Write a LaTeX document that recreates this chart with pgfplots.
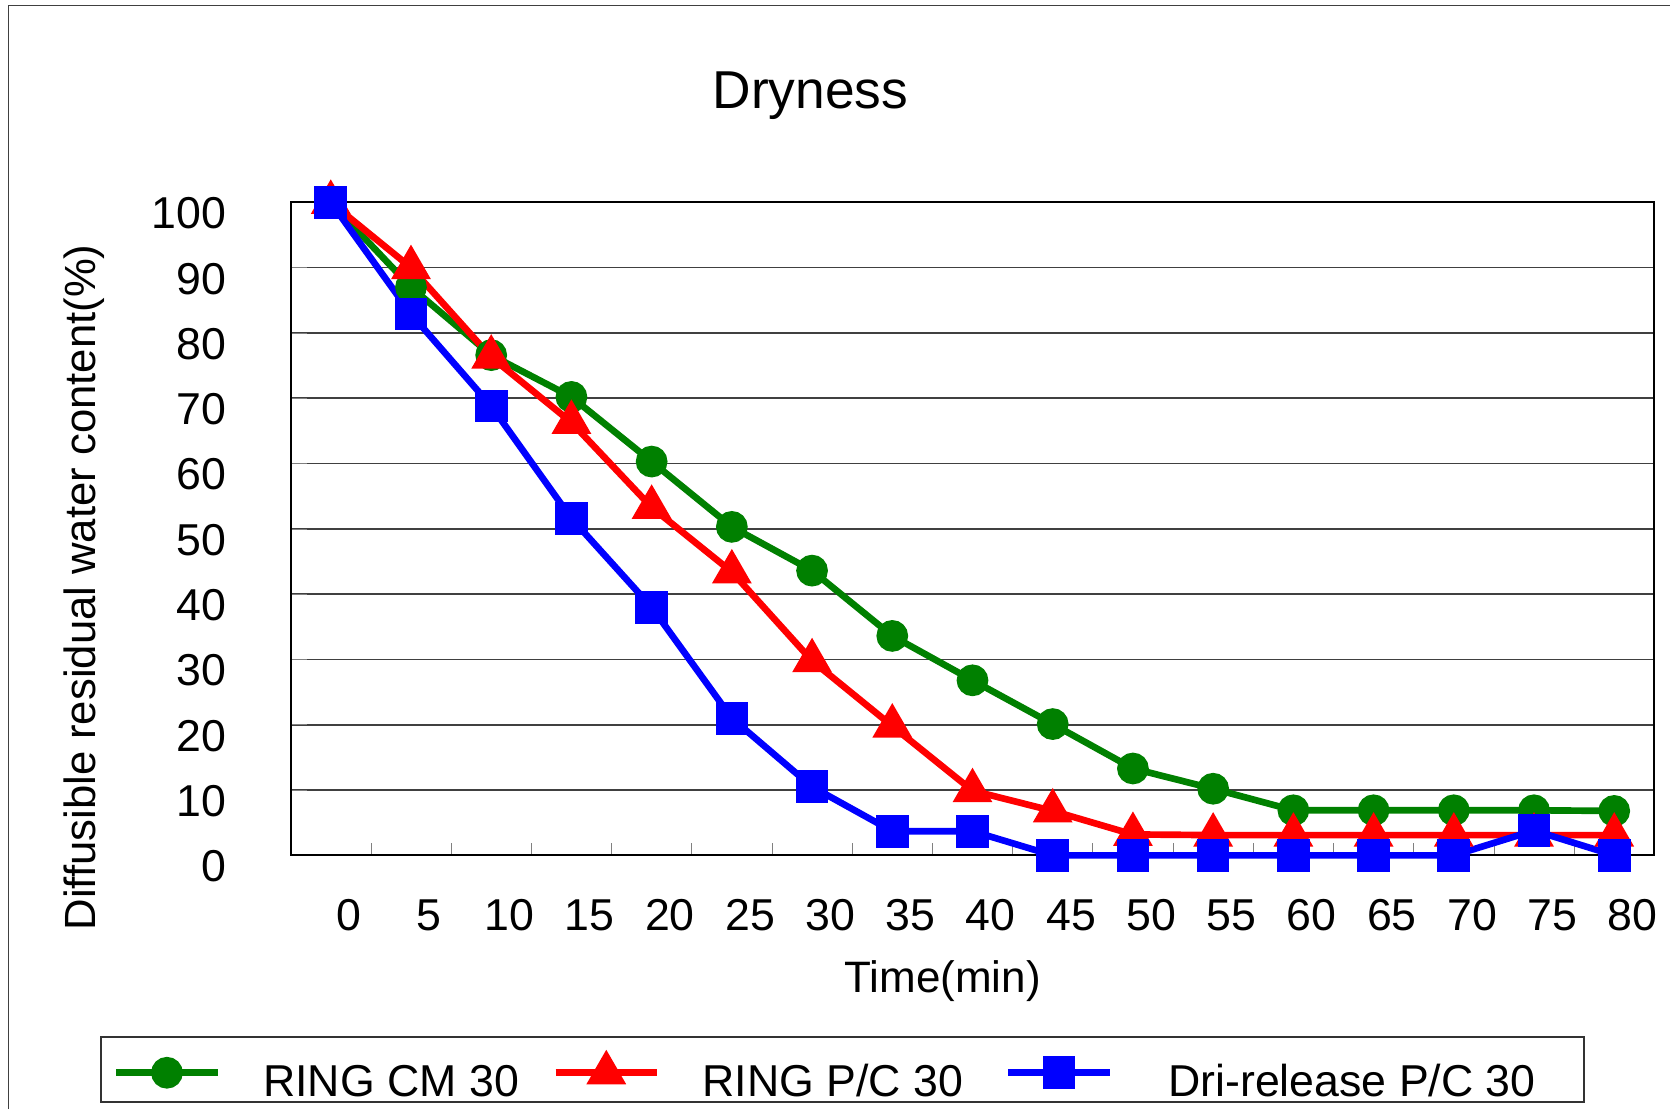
\documentclass[border=0pt]{standalone}
\usepackage{fontspec}
\setmainfont{Liberation Sans}
\usepackage{pgfplots}
\pgfplotsset{compat=1.18}
\definecolor{cgreen}{RGB}{0,128,0}
\definecolor{cred}{RGB}{255,0,0}
\definecolor{cblue}{RGB}{0,0,255}
\begin{document}
\begin{tikzpicture}
\useasboundingbox (0,0) rectangle (501pt,332.7pt);
\draw[black!75, line width=0.5pt] (2.55pt,0) -- (2.55pt,331pt) -- (501pt,331pt);
\begin{axis}[
  at={(87.2pt,76.1pt)}, anchor=south west,
  scale only axis, width=409.1pt, height=195.9pt,
  xmin=-2.5, xmax=82.5, ymin=0, ymax=100,
  xtick={0,5,...,80}, ytick={0,10,...,100},
  minor x tick num=1,
  major x tick style={draw=none},
  minor tick length=3.8pt, major tick length=5pt,
  tick align=inside, xtick pos=left, ytick pos=left,
  ymajorgrids, grid style={black!75, line width=0.5pt},
  axis line style={black, line width=0.6pt},
  /pgf/number format/assume math mode=true,
  tick label style={font=\fontsize{13.4}{16}\selectfont},
  xticklabel style={anchor=base, yshift=-22.4pt, xshift=5.5pt},
  yticklabel style={anchor=east, inner sep=0pt, xshift=-19.2pt, yshift=-3.3pt},
  title={Dryness},
  title style={at={(axis description cs:0.3812,1.113)}, anchor=base, font=\fontsize{16}{19}\selectfont},
  xlabel={Time(min)},
  xlabel style={at={(axis description cs:0.478,-0.2103)}, anchor=base, font=\fontsize{13.2}{16}\selectfont},
  ylabel={Diffusible residual water content(\%)},
  ylabel style={at={(axis description cs:-0.1434,0.4103)}, anchor=base, font=\fontsize{13.1}{16}\selectfont},
  clip=false,
  legend columns=3,
  legend style={at={(-0.1396,-0.2768)}, anchor=north west, draw=black!80, line width=0.6pt,
    inner xsep=3.5pt, inner ysep=0pt, font=\fontsize{13.4}{16}\selectfont,
    /tikz/every odd column/.style={column sep=12.7pt},
    /tikz/every even column/.style={column sep=10.1pt},
    nodes={inner sep=0pt, text height=17.7pt, text depth=1.7pt},
    cells={anchor=base west}},
  legend image code/.code={\draw[mark repeat=2, mark phase=2, #1] plot coordinates {(0pt,7pt) (15.2pt,7pt) (30.4pt,7pt)};},
]
\addplot[cgreen, line width=2pt, mark=*, mark size=3.75pt, mark options={solid, fill=cgreen}] coordinates {
(0,100) (5,87.0) (10,76.6) (15,70.2) (20,60.3) (25,50.3) (30,43.6) (35,33.6) (40,26.8)
(45,20.1) (50,13.3) (55,10.2) (60,6.9) (65,6.9) (70,6.9) (75,6.9) (80,6.8)};
\addlegendentry{\makebox[76.6pt][l]{RING CM 30}}
\addplot[cred, line width=2pt, mark=triangle*, mark size=4.9pt, mark options={solid, fill=cred}] coordinates {
(0,100) (5,90.0) (10,76.3) (15,66.3) (20,53.3) (25,43.4) (30,29.8) (35,19.8) (40,9.9)
(45,6.8) (50,3.2) (55,3.1) (60,3.1) (65,3.1) (70,3.1) (75,3.1) (80,3.1)};
\addlegendentry{\makebox[80.6pt][l]{RING P/C 30}}
\addplot[cblue, line width=2pt, mark=square*, mark size=3.9pt, mark options={solid, fill=cblue}] coordinates {
(0,100) (5,82.9) (10,68.8) (15,51.6) (20,38.0) (25,21.0) (30,10.5) (35,3.7) (40,3.7)
(45,0) (50,0) (55,0) (60,0) (65,0) (70,0) (75,3.8) (80,0)};
\addlegendentry{\makebox[125.2pt][l]{\hspace*{3.9pt}Dri-release P/C 30}}
\end{axis}
\end{tikzpicture}
\end{document}
